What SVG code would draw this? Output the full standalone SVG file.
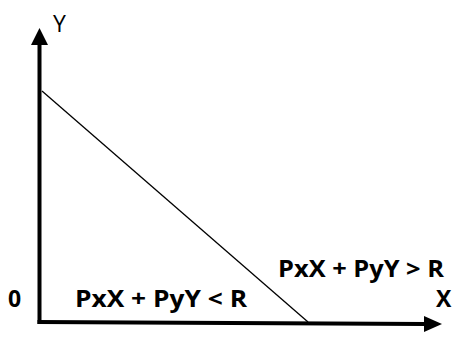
<svg xmlns="http://www.w3.org/2000/svg" width="457" height="349" viewBox="0 0 457 349">
<style>
.lbl{font-family:"Open Sans","Liberation Sans",sans-serif;font-weight:bold;font-size:23px;fill:#000}
.ax{stroke:#000;stroke-width:4;fill:none}
</style>
<rect width="457" height="349" fill="#fff"/>
<g id="connectors">
<line class="ax" x1="39.5" y1="44" x2="39.5" y2="324"/>
<polygon points="39.5,28 31,45 48,45" fill="#000"/>
<line class="ax" x1="37.5" y1="322" x2="425" y2="324"/>
<polygon points="442,324 424,316 424,332" fill="#000"/>
<line x1="42" y1="91" x2="308" y2="322" stroke="#000" stroke-width="1.3"/>
</g>
<g id="label-y"><text x="53" y="32" style="font-family:'Open Sans','Liberation Sans',sans-serif;font-size:23px">Y</text></g>
<g id="label-0"><text class="lbl" x="8" y="307">0</text></g>
<g id="label-x"><text class="lbl" x="436" y="307">X</text></g>
<g id="region-below"><text class="lbl" x="75" y="307" textLength="172" lengthAdjust="spacingAndGlyphs">PxX + PyY &lt; R</text></g>
<g id="region-above"><text class="lbl" x="278" y="277" textLength="166" lengthAdjust="spacingAndGlyphs">PxX + PyY &gt; R</text></g>
</svg>
